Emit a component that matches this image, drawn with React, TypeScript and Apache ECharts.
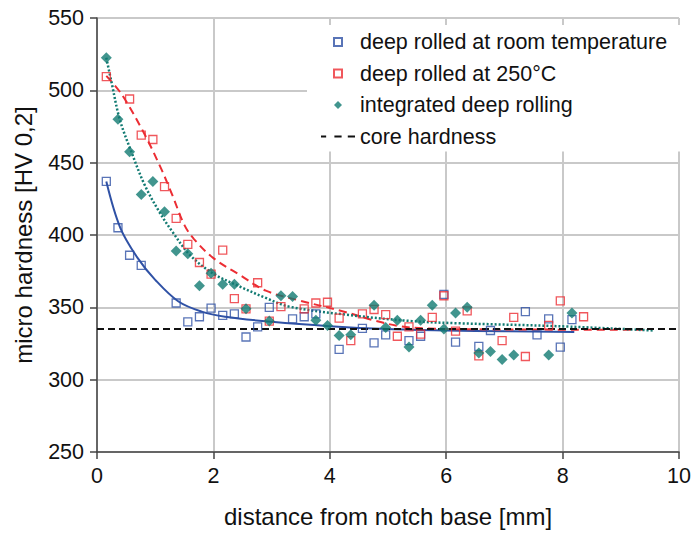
import React, { useEffect, useRef } from "react";
import * as echarts from "echarts";

// measured hardness values [distance mm, HV 0,2]
const roomTempPoints: number[][] = [
  [0.16, 437], [0.36, 405], [0.56, 386], [0.76, 379], [1.36, 353], [1.56, 340],
  [1.76, 343.5], [1.96, 349.5], [2.16, 344.5], [2.36, 345.5], [2.56, 329.5], [2.76, 336.5],
  [2.96, 350], [3.36, 342], [3.56, 343.5], [3.76, 345.5], [4.16, 321], [4.56, 335.5],
  [4.76, 325.5], [4.96, 331], [5.36, 327], [5.56, 330], [5.96, 359], [6.16, 326],
  [6.56, 323], [6.76, 334], [7.36, 347], [7.56, 331], [7.76, 342], [7.96, 322.5], [8.16, 341.5],
];
const hotRolledPoints: number[][] = [
  [0.16, 509.5], [0.56, 494], [0.76, 469], [0.96, 466], [1.16, 433.5], [1.36, 411.5],
  [1.56, 393.5], [1.76, 381], [1.96, 373], [2.16, 389.5], [2.36, 356], [2.56, 349],
  [2.76, 367], [2.96, 340.5], [3.16, 350.5], [3.56, 349], [3.76, 353], [3.96, 353.5],
  [4.16, 342.5], [4.36, 327], [4.56, 345.5], [4.76, 348.5], [4.96, 345], [5.16, 330],
  [5.36, 336.5], [5.56, 331.5], [5.76, 343], [5.96, 358], [6.16, 333.5], [6.36, 347.5],
  [6.56, 316.5], [6.96, 327], [7.16, 343], [7.36, 316], [7.76, 337.5], [7.96, 354.5], [8.36, 343.5],
];
const integratedPoints: number[][] = [
  [0.16, 522.5], [0.36, 480], [0.56, 457.5], [0.76, 428], [0.96, 437], [1.16, 416],
  [1.36, 389], [1.56, 387], [1.76, 365], [1.96, 373.5], [2.16, 366], [2.36, 366],
  [2.56, 349], [2.96, 340.5], [3.16, 358], [3.36, 357.5], [3.76, 341], [3.96, 337.5],
  [4.16, 330.5], [4.36, 331], [4.76, 351.5], [4.96, 336], [5.16, 341], [5.36, 322.5],
  [5.56, 341], [5.76, 351.5], [5.96, 335], [6.16, 346], [6.36, 350], [6.56, 318.5],
  [6.76, 319.5], [6.96, 314], [7.16, 317], [7.76, 317], [8.16, 346],
];

// trend lines
const roomTempTrend: number[][] = [
  [0.16, 437], [0.4, 405], [0.7, 384], [1.0, 369], [1.4, 354], [1.8, 347], [2.2, 343.5],
  [3.0, 340], [4.0, 337], [5.0, 335], [6.0, 334], [7.0, 333.5], [8.2, 333],
];
const hotRolledTrend: number[][] = [
  [0.16, 510], [0.42, 497.5], [0.8, 471], [1.1, 446], [1.3, 427], [1.5, 407], [1.67, 397],
  [2.0, 384], [2.45, 372.5], [2.9, 361.5], [3.5, 354.5], [4.2, 347.5], [4.8, 340.5],
  [5.2, 337], [5.6, 335.5], [6.5, 334.8], [9.4, 334.5],
];
const integratedTrend: number[][] = [
  [0.16, 522.5], [0.25, 505.5], [0.39, 480], [0.59, 457.5], [0.82, 434.5], [1.07, 416],
  [1.3, 402], [1.59, 386.5], [1.98, 373.7], [2.44, 364.6], [2.9, 356.5], [3.3, 350.5],
  [4.26, 345], [5.4, 340.5], [6.2, 339], [7.9, 337], [9.55, 334],
];
const coreHardnessLine: number[][] = [[0, 335], [10, 335]];

const seriesNames = [
  "deep rolled at room temperature",
  "deep rolled at 250°C",
  "integrated deep rolling",
  "core hardness",
];
const xTitle = "distance from notch base [mm]";
const yTitle = "micro hardness [HV 0,2]";

const BLUE = "#2f51a5";
const RED = "#ec2d33";
const TEAL = "#117a72";
const FONT = "Liberation Sans, Arial, sans-serif";
const SQUARE = "path://M0,0h9v9h-9z";
const DIAMOND = "path://M5,0L10,5L5,10L0,5Z";
const DASH_ICON = "path://M0,0h5v2h-5zM13,0h7v2h-7zM26,0h7v2h-7z";

export default function App() {
  const ref = useRef<HTMLDivElement>(null);
  useEffect(() => {
    if (!ref.current) return;
    const chart = echarts.init(ref.current, undefined, { renderer: "svg" });
    const axisCommon = {
      axisLine: { show: true, lineStyle: { color: "#444", width: 1.5 } },
      axisTick: { show: true, inside: false, length: 7, lineStyle: { color: "#444", width: 1.5 } },
      splitLine: { show: true, lineStyle: { color: "#c9c9c9", width: 2 } },
      axisLabel: { fontSize: 21.5, color: "#111", fontFamily: FONT, margin: 13 },
      nameTextStyle: { fontSize: 24, color: "#111", fontFamily: FONT },
      nameLocation: "middle" as const,
    };
    chart.setOption({
      animation: false,
      textStyle: { fontFamily: FONT },
      grid: { left: 97, right: 11, top: 18, bottom: 78, containLabel: false },
      xAxis: {
        type: "value", min: 0, max: 10, interval: 2, name: xTitle, nameGap: 52,
        ...axisCommon,
      },
      yAxis: {
        type: "value", min: 250, max: 550, interval: 50, name: yTitle, nameGap: 62,
        ...axisCommon,
      },
      legend: {
        left: 307, top: 25, orient: "vertical",
        padding: [6, 14, 4, 14],
        backgroundColor: "#ffffff",
        itemWidth: 34, itemHeight: 8, itemGap: 9.5,
        symbolKeepAspect: true,
        selectedMode: false,
        textStyle: { fontSize: 21.5, color: "#111", fontFamily: FONT },
        data: [
          { name: seriesNames[0], icon: SQUARE },
          { name: seriesNames[1], icon: SQUARE },
          { name: seriesNames[2], icon: DIAMOND },
          { name: seriesNames[3], icon: DASH_ICON },
        ],
      },
      series: [
        {
          name: "trend room", type: "line", data: roomTempTrend, smooth: 0.35, symbol: "none",
          lineStyle: { color: BLUE, width: 2 }, z: 2,
        },
        {
          name: "trend 250", type: "line", data: hotRolledTrend, smooth: 0.35, symbol: "none",
          lineStyle: { color: RED, width: 2, type: [8, 5] }, z: 2,
        },
        {
          name: "trend integrated", type: "line", data: integratedTrend, smooth: 0.35, symbol: "none",
          lineStyle: { color: TEAL, width: 2.5, type: [2, 2] }, z: 2,
        },
        {
          name: seriesNames[3], type: "line", data: coreHardnessLine, symbol: "none",
          lineStyle: { color: "#111", width: 2, type: [7, 4] },
          itemStyle: { color: "#111", borderWidth: 0 }, z: 2,
        },
        {
          name: seriesNames[0], type: "scatter", data: roomTempPoints, symbol: "rect", symbolSize: 8,
          itemStyle: { color: "rgba(255,255,255,0)", borderColor: BLUE, borderWidth: 1.3 }, z: 3,
        },
        {
          name: seriesNames[1], type: "scatter", data: hotRolledPoints, symbol: "rect", symbolSize: 8,
          itemStyle: { color: "rgba(255,255,255,0)", borderColor: RED, borderWidth: 1.3 }, z: 3,
        },
        {
          name: seriesNames[2], type: "scatter", data: integratedPoints, symbol: "diamond", symbolSize: 11,
          itemStyle: { color: TEAL }, z: 4,
        },
      ],
    });
    return () => chart.dispose();
  }, []);
  return (
    <div
      ref={ref}
      style={{ position: "fixed", left: 0, top: 0, width: 694, height: 533, background: "#fff" }}
    />
  );
}
